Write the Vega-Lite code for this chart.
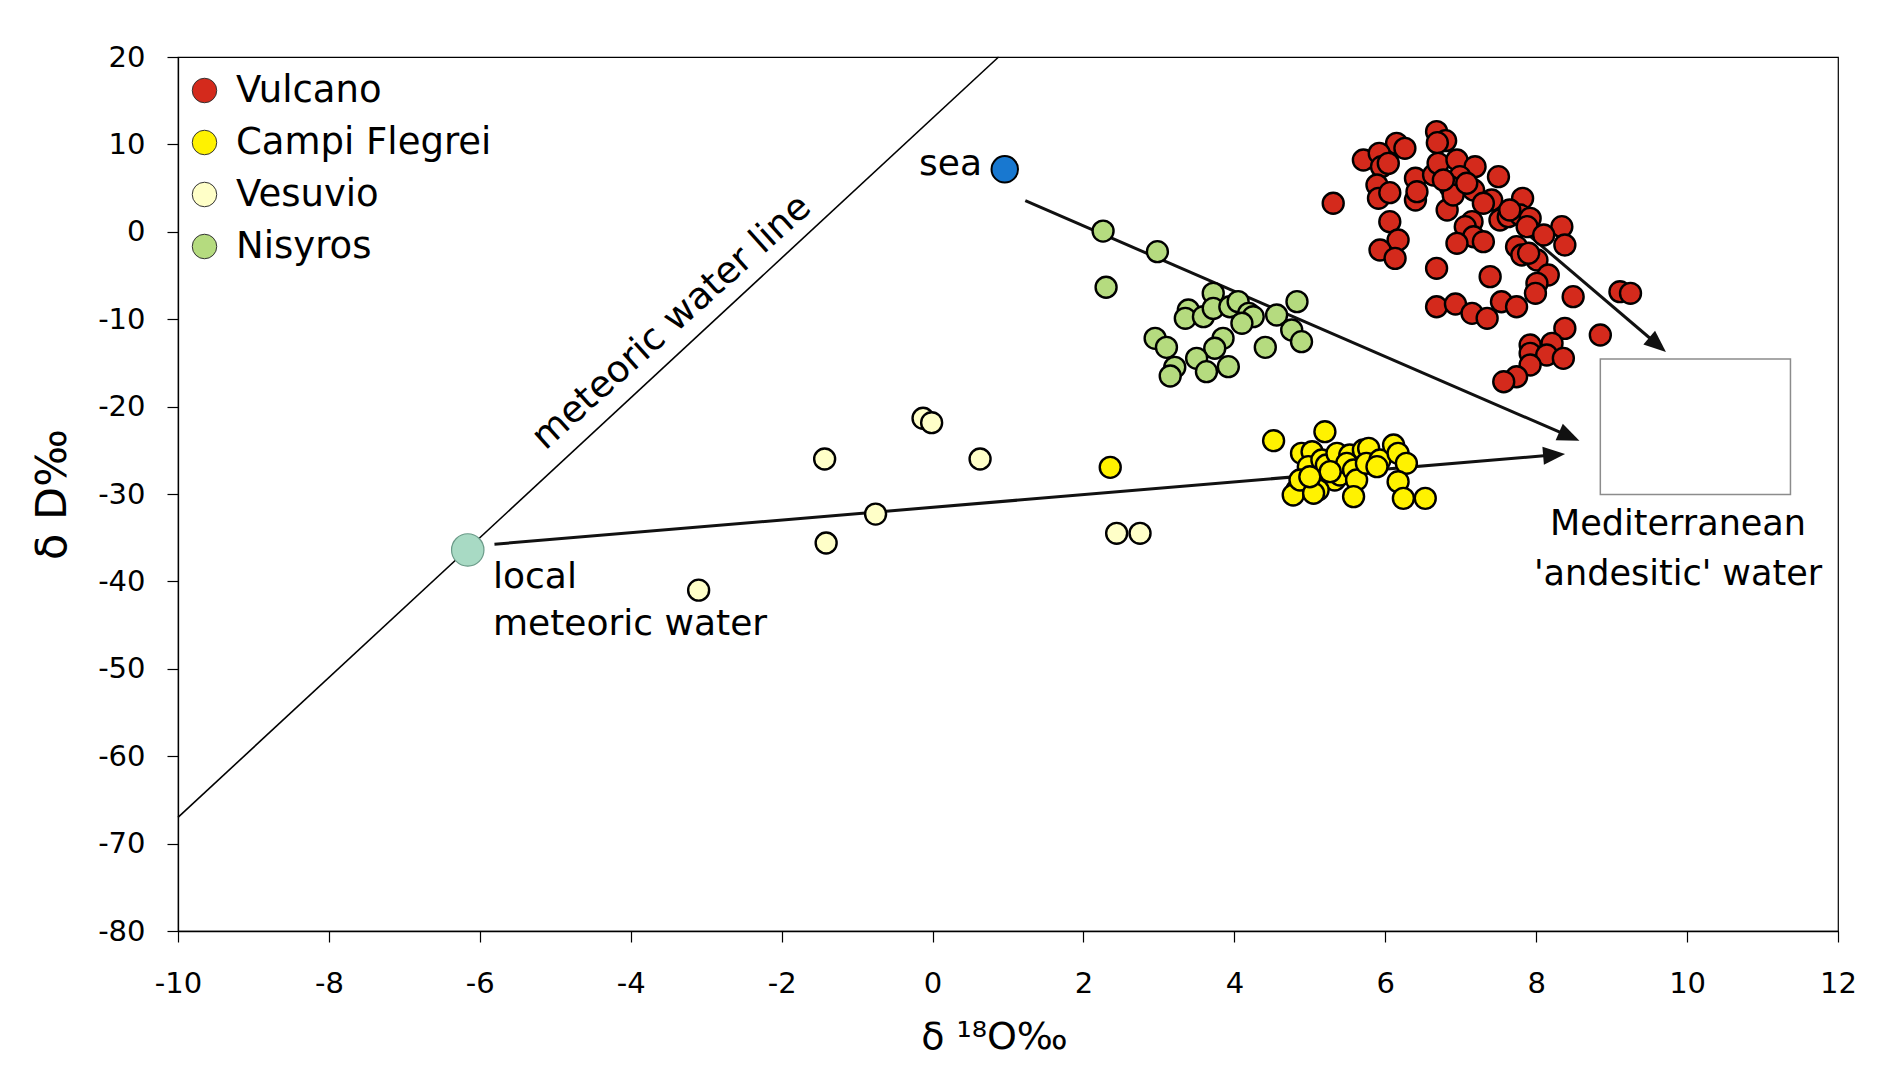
{
  "$schema": "https://vega.github.io/schema/vega-lite/v6.json",
  "width": 1660,
  "height": 874,
  "autosize": {"type": "none"},
  "padding": {"left": 178, "top": 57, "right": 58, "bottom": 135},
  "background": "white",
  "config": {
    "font": "DejaVu Sans",
    "view": {"stroke": "black", "strokeWidth": 1.2},
    "axis": {
      "grid": false, "domainColor": "black", "tickColor": "black", "labelColor": "black",
      "titleColor": "black", "labelFont": "DejaVu Sans", "titleFont": "DejaVu Sans",
      "labelFontSize": 29, "tickSize": 11, "domainWidth": 1.3, "tickWidth": 1.2,
      "titleFontWeight": "normal", "labelFlush": false, "labelOverlap": false
    },
    "legend": {"labelFont": "DejaVu Sans", "labelColor": "black"}
  },
  "datasets": {
    "samples": [
      {"g":"Vulcano","x":6.68,"y":11.46},{"g":"Vulcano","x":6.80,"y":10.43},{"g":"Vulcano","x":6.69,"y":10.20},
      {"g":"Vulcano","x":6.15,"y":10.12},{"g":"Vulcano","x":6.26,"y":9.55},{"g":"Vulcano","x":5.71,"y":8.21},
      {"g":"Vulcano","x":5.92,"y":8.98},{"g":"Vulcano","x":5.95,"y":7.45},{"g":"Vulcano","x":6.04,"y":7.83},
      {"g":"Vulcano","x":5.89,"y":5.35},{"g":"Vulcano","x":5.91,"y":3.83},{"g":"Vulcano","x":6.06,"y":4.48},
      {"g":"Vulcano","x":5.31,"y":3.26},{"g":"Vulcano","x":6.40,"y":6.12},{"g":"Vulcano","x":6.40,"y":3.64},
      {"g":"Vulcano","x":6.42,"y":4.59},{"g":"Vulcano","x":6.64,"y":6.50},{"g":"Vulcano","x":6.70,"y":7.83},
      {"g":"Vulcano","x":6.95,"y":8.21},{"g":"Vulcano","x":7.19,"y":7.45},{"g":"Vulcano","x":6.99,"y":6.31},
      {"g":"Vulcano","x":6.86,"y":5.16},{"g":"Vulcano","x":6.82,"y":2.49},{"g":"Vulcano","x":6.90,"y":4.21},
      {"g":"Vulcano","x":7.17,"y":4.78},{"g":"Vulcano","x":7.08,"y":5.55},{"g":"Vulcano","x":7.50,"y":6.31},
      {"g":"Vulcano","x":7.41,"y":3.64},{"g":"Vulcano","x":7.30,"y":3.26},{"g":"Vulcano","x":7.52,"y":1.35},
      {"g":"Vulcano","x":7.63,"y":1.73},{"g":"Vulcano","x":7.82,"y":3.83},{"g":"Vulcano","x":7.79,"y":1.92},
      {"g":"Vulcano","x":7.92,"y":1.54},{"g":"Vulcano","x":7.88,"y":0.59},{"g":"Vulcano","x":8.34,"y":0.59},
      {"g":"Vulcano","x":8.38,"y":-1.51},{"g":"Vulcano","x":8.10,"y":-0.37},{"g":"Vulcano","x":6.06,"y":1.16},
      {"g":"Vulcano","x":6.17,"y":-0.94},{"g":"Vulcano","x":5.93,"y":-2.08},{"g":"Vulcano","x":6.13,"y":-3.04},
      {"g":"Vulcano","x":7.15,"y":1.16},{"g":"Vulcano","x":7.06,"y":0.59},{"g":"Vulcano","x":7.17,"y":-0.56},
      {"g":"Vulcano","x":6.95,"y":-1.32},{"g":"Vulcano","x":7.30,"y":-1.13},{"g":"Vulcano","x":7.74,"y":-1.70},
      {"g":"Vulcano","x":7.81,"y":-2.65},{"g":"Vulcano","x":8.01,"y":-3.23},{"g":"Vulcano","x":6.68,"y":-4.18},
      {"g":"Vulcano","x":7.39,"y":-5.13},{"g":"Vulcano","x":8.16,"y":-4.94},{"g":"Vulcano","x":8.01,"y":-5.90},
      {"g":"Vulcano","x":7.99,"y":-7.04},{"g":"Vulcano","x":8.49,"y":-7.42},{"g":"Vulcano","x":9.11,"y":-6.85},
      {"g":"Vulcano","x":9.25,"y":-7.04},{"g":"Vulcano","x":6.68,"y":-8.57},{"g":"Vulcano","x":6.93,"y":-8.26},
      {"g":"Vulcano","x":7.15,"y":-9.33},{"g":"Vulcano","x":7.35,"y":-9.90},{"g":"Vulcano","x":7.54,"y":-8.00},
      {"g":"Vulcano","x":7.74,"y":-8.57},{"g":"Vulcano","x":8.38,"y":-11.05},{"g":"Vulcano","x":8.85,"y":-11.81},
      {"g":"Vulcano","x":7.92,"y":-12.95},{"g":"Vulcano","x":7.92,"y":-13.91},{"g":"Vulcano","x":8.21,"y":-12.76},
      {"g":"Vulcano","x":8.14,"y":-14.10},{"g":"Vulcano","x":8.36,"y":-14.48},{"g":"Vulcano","x":7.92,"y":-15.24},
      {"g":"Vulcano","x":7.74,"y":-16.58},{"g":"Vulcano","x":7.57,"y":-17.15},{"g":"Vulcano","x":6.77,"y":5.93},
      {"g":"Vulcano","x":7.65,"y":2.49},{"g":"Vulcano","x":7.90,"y":-2.46},
      {"g":"Campi Flegrei","x":4.52,"y":-23.90},{"g":"Campi Flegrei","x":5.20,"y":-22.87},{"g":"Campi Flegrei","x":2.355,"y":-26.95},
      {"g":"Campi Flegrei","x":4.89,"y":-25.35},{"g":"Campi Flegrei","x":5.03,"y":-25.16},{"g":"Campi Flegrei","x":4.98,"y":-26.87},
      {"g":"Campi Flegrei","x":4.83,"y":-29.54},{"g":"Campi Flegrei","x":4.78,"y":-30.11},{"g":"Campi Flegrei","x":4.87,"y":-28.40},
      {"g":"Campi Flegrei","x":5.16,"y":-26.11},{"g":"Campi Flegrei","x":5.22,"y":-26.68},{"g":"Campi Flegrei","x":5.36,"y":-25.35},
      {"g":"Campi Flegrei","x":5.33,"y":-28.40},{"g":"Campi Flegrei","x":5.40,"y":-27.83},{"g":"Campi Flegrei","x":5.53,"y":-25.54},
      {"g":"Campi Flegrei","x":5.49,"y":-26.49},{"g":"Campi Flegrei","x":5.58,"y":-27.25},{"g":"Campi Flegrei","x":5.62,"y":-28.40},
      {"g":"Campi Flegrei","x":5.58,"y":-30.30},{"g":"Campi Flegrei","x":5.11,"y":-29.54},{"g":"Campi Flegrei","x":5.05,"y":-29.92},
      {"g":"Campi Flegrei","x":5.71,"y":-24.97},{"g":"Campi Flegrei","x":5.78,"y":-24.78},{"g":"Campi Flegrei","x":5.75,"y":-26.49},
      {"g":"Campi Flegrei","x":5.93,"y":-26.11},{"g":"Campi Flegrei","x":5.89,"y":-26.87},{"g":"Campi Flegrei","x":6.11,"y":-24.39},
      {"g":"Campi Flegrei","x":6.17,"y":-25.35},{"g":"Campi Flegrei","x":6.28,"y":-26.49},{"g":"Campi Flegrei","x":6.17,"y":-28.59},
      {"g":"Campi Flegrei","x":6.24,"y":-30.50},{"g":"Campi Flegrei","x":6.53,"y":-30.50},{"g":"Campi Flegrei","x":5.27,"y":-27.44},
      {"g":"Campi Flegrei","x":5.00,"y":-28.02},
      {"g":"Vesuvio","x":-0.126,"y":-21.34},{"g":"Vesuvio","x":-0.012,"y":-21.84},{"g":"Vesuvio","x":-1.43,"y":-26.0},
      {"g":"Vesuvio","x":0.63,"y":-26.0},{"g":"Vesuvio","x":-0.755,"y":-32.3},{"g":"Vesuvio","x":-1.41,"y":-35.6},
      {"g":"Vesuvio","x":-3.10,"y":-41.0},{"g":"Vesuvio","x":2.44,"y":-34.5},{"g":"Vesuvio","x":2.75,"y":-34.5},
      {"g":"Nisyros","x":2.26,"y":0.08},{"g":"Nisyros","x":2.98,"y":-2.27},{"g":"Nisyros","x":2.30,"y":-6.35},
      {"g":"Nisyros","x":3.72,"y":-7.04},{"g":"Nisyros","x":3.39,"y":-8.95},{"g":"Nisyros","x":3.35,"y":-9.90},
      {"g":"Nisyros","x":3.59,"y":-9.71},{"g":"Nisyros","x":3.72,"y":-8.76},{"g":"Nisyros","x":3.94,"y":-8.57},
      {"g":"Nisyros","x":4.05,"y":-7.99},{"g":"Nisyros","x":4.19,"y":-9.33},{"g":"Nisyros","x":4.25,"y":-9.71},
      {"g":"Nisyros","x":4.10,"y":-10.47},{"g":"Nisyros","x":4.56,"y":-9.52},{"g":"Nisyros","x":4.83,"y":-7.99},
      {"g":"Nisyros","x":2.95,"y":-12.19},{"g":"Nisyros","x":3.10,"y":-13.22},{"g":"Nisyros","x":3.85,"y":-12.19},
      {"g":"Nisyros","x":3.74,"y":-13.33},{"g":"Nisyros","x":4.41,"y":-13.22},{"g":"Nisyros","x":4.76,"y":-11.24},
      {"g":"Nisyros","x":4.89,"y":-12.57},{"g":"Nisyros","x":3.50,"y":-14.48},{"g":"Nisyros","x":3.21,"y":-15.51},
      {"g":"Nisyros","x":3.15,"y":-16.50},{"g":"Nisyros","x":3.63,"y":-16.00},{"g":"Nisyros","x":3.92,"y":-15.43}
    ],
    "arrows": [
      {"x":-5.806,"y":-35.75,"x2":8.251,"y2":-25.52},
      {"x":1.229,"y":3.56,"x2":8.451,"y2":-23.44},
      {"x":7.05,"y":5.9,"x2":9.621,"y2":-13.01}
    ],
    "heads": [
      {"x":8.383,"y":-25.42,"a":85.2},
      {"x":8.573,"y":-23.90,"a":113.4},
      {"x":9.72,"y":-13.75,"a":130.4}
    ]
  },
  "encoding": {
    "x": {
      "field": "x", "type": "quantitative",
      "scale": {"domain": [-10, 12], "nice": false, "zero": false},
      "axis": {
        "values": [-10,-8,-6,-4,-2,0,2,4,6,8,10,12],
        "labelExpr": "'' + datum.value",
        "title": "δ ¹⁸O‰", "titleFontSize": 38, "titleX": 816, "titleY": 106,
        "titleBaseline": "middle", "titleAlign": "center", "labelPadding": 27
      }
    },
    "y": {
      "field": "y", "type": "quantitative",
      "scale": {"domain": [-80, 20], "nice": false, "zero": false},
      "axis": {
        "values": [-80,-70,-60,-50,-40,-30,-20,-10,0,10,20],
        "labelExpr": "'' + datum.value",
        "title": "δ D‰", "titleFontSize": 43, "titleX": -126, "titleY": 437,
        "titleAngle": -90, "titleBaseline": "middle", "titleAlign": "center", "labelPadding": 22
      }
    }
  },
  "layer": [
    {
      "data": {"values": [{"x": 8.85, "x2": 11.37, "y": -30.06, "y2": -14.55}]},
      "mark": {"type": "rect", "fill": "white", "stroke": "#8c8c8c", "strokeWidth": 1.5},
      "encoding": {"x2": {"field": "x2"}, "y2": {"field": "y2"}}
    },
    {
      "data": {"values": [{"x": -10, "y": -67, "x2": 0.875, "y2": 20}]},
      "mark": {"type": "rule", "color": "black", "strokeWidth": 1.6},
      "encoding": {"x2": {"field": "x2"}, "y2": {"field": "y2"}}
    },
    {
      "data": {"name": "arrows"},
      "mark": {"type": "rule", "color": "#111", "strokeWidth": 3},
      "encoding": {"x2": {"field": "x2"}, "y2": {"field": "y2"}}
    },
    {
      "data": {"name": "samples"},
      "mark": {"type": "point", "shape": "circle", "filled": true, "size": 440, "stroke": "black", "strokeWidth": 2.4, "opacity": 1},
      "encoding": {
        "fill": {
          "field": "g", "type": "nominal",
          "scale": {"domain": ["Vulcano", "Campi Flegrei", "Vesuvio", "Nisyros"], "range": ["#d42a1c", "#fff200", "#ffffc8", "#b5db7f"]},
          "legend": {
            "orient": "none", "legendX": 8, "legendY": 15, "title": null, "padding": 0,
            "labelFontSize": 37, "labelLimit": 0, "symbolSize": 600, "rowPadding": 14, "labelOffset": 13,
            "symbolStrokeWidth": 1, "symbolStrokeColor": "#333", "symbolType": "circle"
          }
        }
      }
    },
    {
      "data": {"values": [{"x": 0.957, "y": 7.15}]},
      "mark": {"type": "point", "shape": "circle", "filled": true, "size": 700, "fill": "#1878d0", "stroke": "black", "strokeWidth": 2, "opacity": 1}
    },
    {
      "data": {"values": [{"x": -6.16, "y": -36.4}]},
      "mark": {"type": "point", "shape": "circle", "filled": true, "size": 1050, "fill": "#a8dac4", "stroke": "#6a9a88", "strokeWidth": 1.2, "opacity": 1}
    },
    {
      "data": {"name": "heads"},
      "mark": {"type": "point", "shape": "M0,0L-0.45,1.1L0.45,1.1Z", "filled": true, "size": 1600, "fill": "#111", "strokeWidth": 0, "opacity": 1},
      "encoding": {"angle": {"field": "a", "type": "quantitative", "scale": null}}
    },
    {
      "data": {"values": [{"x": -5.825, "y": -40.75, "t": "local"}, {"x": -5.825, "y": -46.13, "t": "meteoric water"}]},
      "mark": {"type": "text", "align": "left", "baseline": "alphabetic", "fontSize": 36, "color": "black", "font": "DejaVu Sans"},
      "encoding": {"text": {"field": "t"}}
    },
    {
      "data": {"values": [{"x": 0.656, "y": 6.5, "t": "sea"}]},
      "mark": {"type": "text", "align": "right", "baseline": "alphabetic", "fontSize": 36, "color": "black", "font": "DejaVu Sans"},
      "encoding": {"text": {"field": "t"}}
    },
    {
      "data": {"values": [{"x": 9.88, "y": -34.69, "t": "Mediterranean"}, {"x": 9.88, "y": -40.4, "t": "'andesitic' water"}]},
      "mark": {"type": "text", "align": "center", "baseline": "alphabetic", "fontSize": 35, "color": "black", "font": "DejaVu Sans"},
      "encoding": {"text": {"field": "t"}}
    },
    {
      "data": {"values": [{"x": -3.36, "y": -11.3, "t": "meteoric water line"}]},
      "mark": {"type": "text", "align": "center", "baseline": "alphabetic", "fontSize": 37, "angle": -42, "color": "black", "font": "DejaVu Sans"},
      "encoding": {"text": {"field": "t"}}
    }
  ]
}
